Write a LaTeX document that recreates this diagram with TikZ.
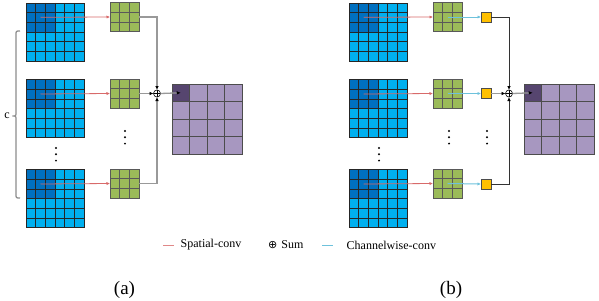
\documentclass[tikz,border=0pt]{standalone}
\usepackage{fontspec}
\setmainfont{Liberation Serif}
\newfontfamily\symfont{DejaVu Sans}
\usetikzlibrary{calc,arrows.meta}
\definecolor{lblue}{HTML}{00B0F0}
\definecolor{dblue}{HTML}{0070C0}
\definecolor{fgreen}{HTML}{9BBB59}
\definecolor{lpurp}{HTML}{A797C0}
\definecolor{dpurp}{HTML}{56456F}
\definecolor{fyell}{HTML}{FFC000}
\definecolor{spred}{HTML}{D86A6A}
\definecolor{chblue}{HTML}{6EC2DC}
\tikzset{
  bluebox/.style={fill=lblue, minimum size=58pt, inner sep=0pt, outer sep=0pt},
  greenbox/.style={fill=fgreen, minimum size=29pt, inner sep=0pt, outer sep=0pt},
  purpbox/.style={fill=lpurp, minimum size=70pt, inner sep=0pt, outer sep=0pt},
  yellbox/.style={fill=fyell, draw=black!70, line width=0.6pt, minimum size=10pt, inner sep=0pt, outer sep=0pt},
  bgrid/.style={draw=black!85, line width=0.6pt},
  ggrid/.style={draw=black!65, line width=0.6pt},
  pgrid/.style={draw=black!70, line width=0.6pt},
  sumnode/.style={circle, draw=black, line width=0.6pt, minimum size=7pt, inner sep=0pt, outer sep=0pt, fill=white,
    path picture={\draw[black, line width=0.5pt] (path picture bounding box.north) -- (path picture bounding box.south)
      (path picture bounding box.west) -- (path picture bounding box.east);}},
  tipk/.tip={Latex[length=4pt, width=3.6pt, color=black]},
  conna/.style={draw=black!40, line width=1.3pt, -tipk},
  connb/.style={draw=black!80, line width=0.8pt, -tipk},
  spat/.style={draw=spred, line width=0.8pt, -{Latex[length=3.5pt, width=3.2pt]}},
  chan/.style={draw=chblue, line width=1pt, -{Latex[length=3.5pt, width=3.2pt]}},
  dotk/.style={fill=black},
  lbl/.style={inner sep=0pt, font=\fontsize{12}{14}\selectfont},
  captext/.style={inner sep=0pt, font=\fontsize{19}{22}\selectfont}
}
\newcommand\cellgrid[4]{%
  \foreach \k in {1,...,#3}{%
    \draw[#4] ($(#1.north west)!\k/#2!(#1.north east)$) -- ($(#1.south west)!\k/#2!(#1.south east)$);
    \draw[#4] ($(#1.north west)!\k/#2!(#1.south west)$) -- ($(#1.north east)!\k/#2!(#1.south east)$);
  }%
  \draw[#4] (#1.north west) rectangle (#1.south east);
}
\newcommand\bluemap[3]{%
  \node[bluebox] (#1) at (#2,#3) {};
  \fill[dblue] (#1.north west) rectangle (#1.center);
  \cellgrid{#1}{6}{5}{bgrid}
  \coordinate (#1c) at ($(#1.north west)!0.25!(#1.south east)$);
}
\newcommand\greenmap[3]{%
  \node[greenbox] (#1) at (#2,#3) {};
  \cellgrid{#1}{3}{2}{ggrid}
}
\newcommand\purpmap[3]{%
  \node[purpbox] (#1) at (#2,#3) {};
  \fill[dpurp] (#1.north west) rectangle ($(#1.north west)!0.25!(#1.south east)$);
  \cellgrid{#1}{4}{3}{pgrid}
  \coordinate (#1c) at ($(#1.north west)!0.125!(#1.south east)$);
}
\newcommand\vdotsk[2]{%
  \fill[dotk] (#1,#2) circle (1.1pt);
  \fill[dotk] (#1,#2+6.3) circle (1.1pt);
  \fill[dotk] (#1,#2+12.6) circle (1.1pt);
}
\begin{document}
\begin{tikzpicture}[x=1pt, y=-1pt]
\useasboundingbox (0,0) rectangle (599,300);
\fill[white] (0,0) rectangle (599,300);

% ---------- panel (a) ----------
\bluemap{ba1}{55}{31.8}
\bluemap{ba2}{55}{108.5}
\bluemap{ba3}{55}{198.5}
\greenmap{ga1}{124.5}{17}
\greenmap{ga2}{124.5}{93.5}
\greenmap{ga3}{124.5}{183.5}
\purpmap{pa}{207}{119}
\node[sumnode] (sa) at (157,93.5) {};
\vdotsk{56}{148}
\vdotsk{125}{131}

\draw[spat] (ba1c) -- (ga1.west);
\draw[spat] (ba2c) -- (ga2.west);
\draw[spat] (ba3c) -- (ga3.west);

\draw[conna] (ga1.east) -| (sa.north);
\draw[conna] (ga2.east) -- (sa.west);
\draw[conna] (ga3.east) -| (sa.south);
\draw[conna] (sa.east) -- (pac);

% brace
\draw[black!45, line width=1.2pt] (20,31) .. controls (16,31) .. (16,35) -- (16,112)
  .. controls (16,116) .. (12.5,116) .. controls (16,116) .. (16,120) -- (16,194)
  .. controls (16,198) .. (20,198);
\node[lbl, anchor=center] (clab) at (7,116) {c};

% ---------- panel (b) ----------
\bluemap{bb1}{378}{31.8}
\bluemap{bb2}{378}{108.5}
\bluemap{bb3}{378}{198.5}
\greenmap{gb1}{447.5}{17}
\greenmap{gb2}{447.5}{93.5}
\greenmap{gb3}{447.5}{183.5}
\node[yellbox] (yb1) at (486,17) {};
\node[yellbox] (yb2) at (486,93.5) {};
\node[yellbox] (yb3) at (486,184) {};
\purpmap{pb}{559}{119}
\node[sumnode] (sb) at (509,93.5) {};
\vdotsk{379}{148}
\vdotsk{449}{131}
\vdotsk{487}{131}

\draw[spat] (bb1c) -- (gb1.west);
\draw[spat] (bb2c) -- (gb2.west);
\draw[spat] (bb3c) -- (gb3.west);
\draw[chan] (gb1.center) -- (yb1.west);
\draw[chan] (gb2.center) -- (yb2.west);
\draw[chan] (gb3.center) -- (yb3.west);

\draw[connb] (yb1.east) -| (sb.north);
\draw[conna] (yb2.east) -- (sb.west);
\draw[connb] (yb3.east) -| (sb.south);
\draw[conna] (sb.east) -- (pbc);

% ---------- legend ----------
\draw[spred!80, line width=0.9pt] (163,245) -- (174,245);
\node[lbl, anchor=west] (l1) at (180.5,245) {Spatial-conv};
\node[lbl, anchor=west] (l2) at (268,245) {{\symfont\fontsize{11}{12}\selectfont ⊕}\hspace{4pt}Sum};
\draw[chblue, line width=0.9pt] (322,245) -- (333,245);
\node[lbl, anchor=west] (l3) at (346.5,245) {Channelwise-conv};

% ---------- captions ----------
\node[captext] (capa) at (124.5,290) {(a)};
\node[captext] (capb) at (451,290) {(b)};
\end{tikzpicture}
\end{document}
